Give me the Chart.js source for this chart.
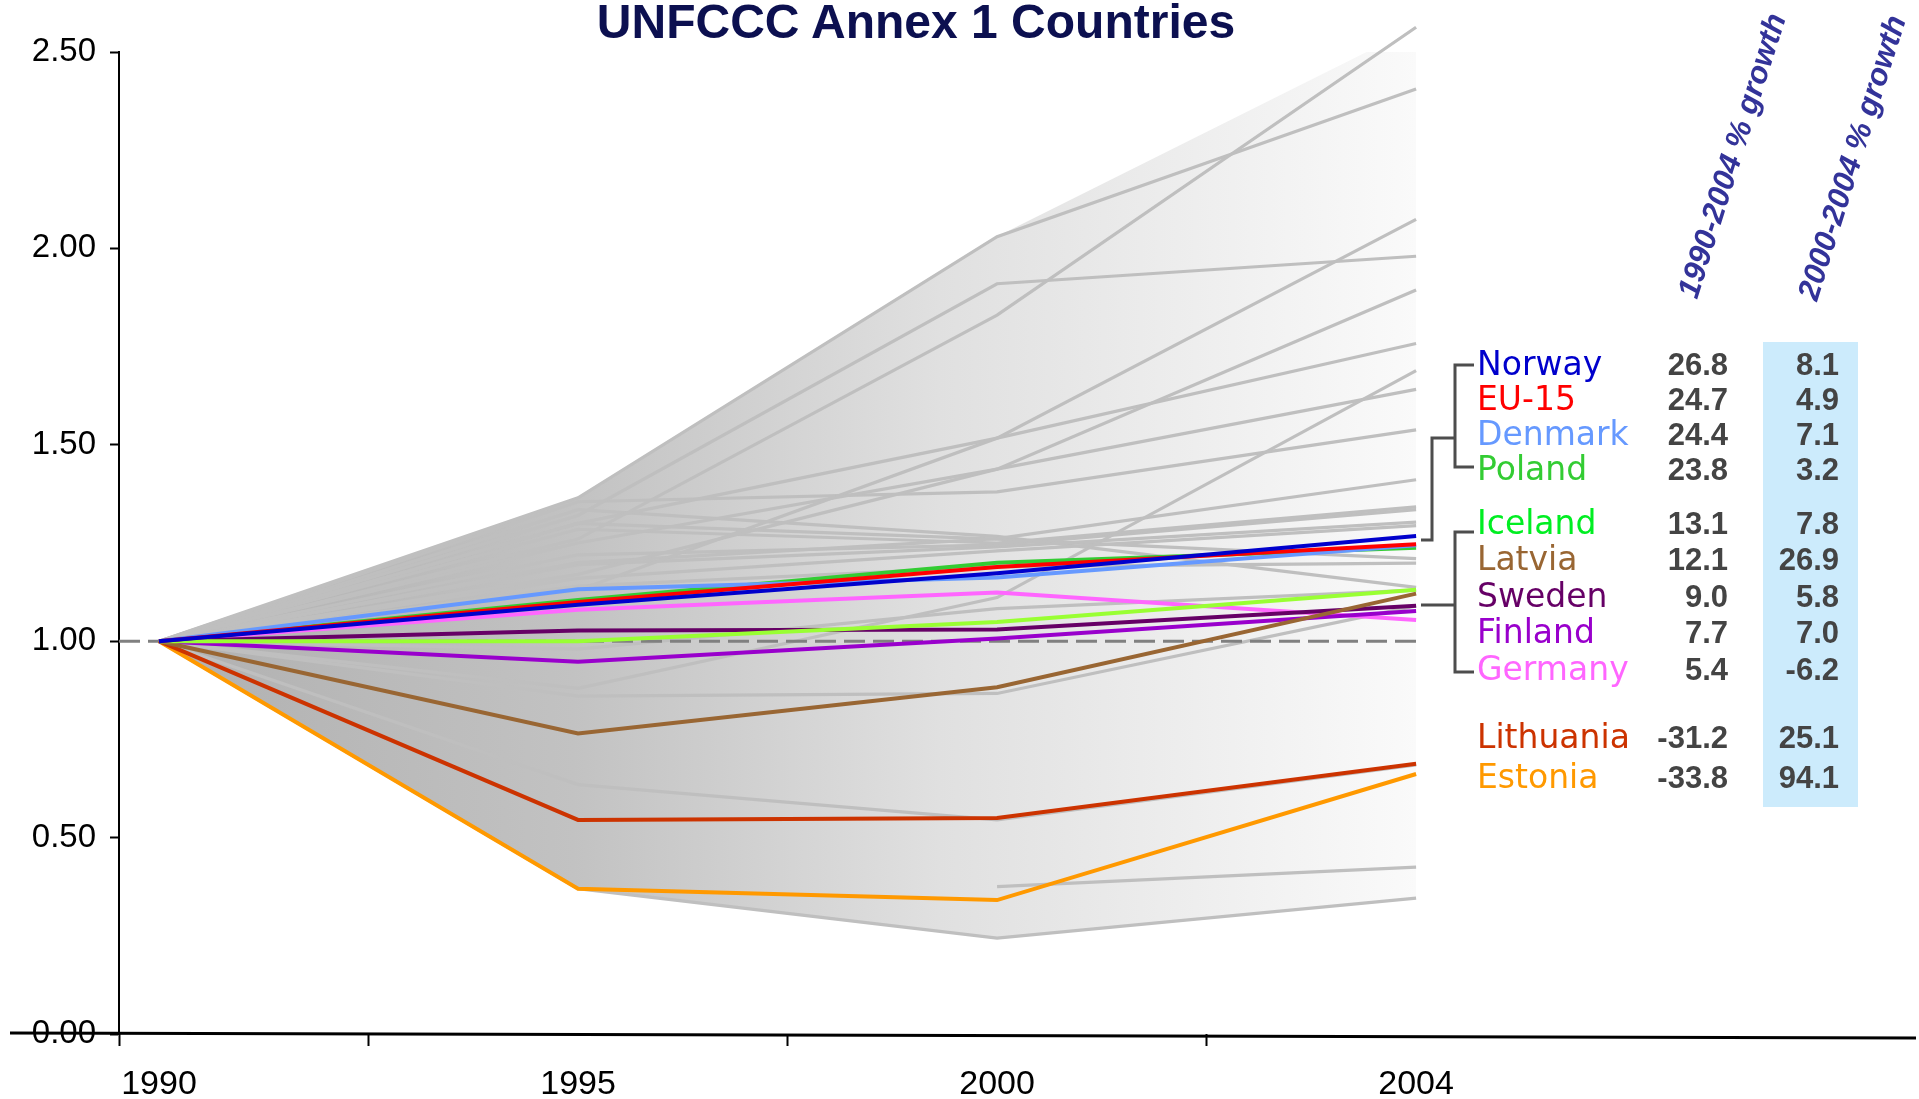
<!DOCTYPE html>
<html>
<head>
<meta charset="utf-8">
<title>UNFCCC Annex 1 Countries</title>
<script src="https://cdn.jsdelivr.net/npm/chart.js@4.4.1/dist/chart.umd.min.js"></script>
<style>
    body { margin: 0; background: #fff; }
    #wrap { position: relative; width: 1919px; height: 1099px; overflow: hidden; }
    #chart { position: absolute; left: 0; top: 0; }
    #overlay { position: absolute; left: 0; top: 0; pointer-events: none; }
    .title { font: bold 48px "Liberation Sans", Arial, sans-serif; fill: #0c1050; }
    .head { font: italic bold 31px "Liberation Sans", Arial, sans-serif; fill: #333399; }
    .name { font: 33px "DejaVu Sans", Verdana, sans-serif; }
    .num { font: bold 31px "Liberation Sans", Arial, sans-serif; fill: #444444; }
</style>
</head>
<body>
<div id="wrap">
    <canvas id="chart" width="1919" height="1099"></canvas>
    <svg id="overlay" width="1919" height="1099" xmlns="http://www.w3.org/2000/svg">
        <text class="title" x="916" y="38" text-anchor="middle">UNFCCC Annex 1 Countries</text>
        <rect x="1763" y="342" width="95" height="465" fill="#ccebfc"></rect>
        <text class="head" transform="translate(1697,300) rotate(-72.5)">1990-2004 % growth</text>
        <text class="head" transform="translate(1817,302) rotate(-72.5)">2000-2004 % growth</text>
        <!-- brackets linking the groups to the line ends -->
        <path d="M1474,365 H1455 V467 H1474 M1455,438 H1432 V540 H1421" stroke="#4d4d4d" stroke-width="3" fill="none"></path>
        <path d="M1474,532 H1455 V672 H1474 M1455,605 H1421" stroke="#4d4d4d" stroke-width="3" fill="none"></path>
        <g id="rows"></g>
    </svg>
</div>

<script>
// Categories (x axis)
const years = ["1990", "1995", "2000", "2004"];

// Highlighted countries, index 1990 = 1.00
const norway    = [1, 1.093, 1.173, 1.268];
const eu15      = [1, 1.100, 1.189, 1.247];
const denmark   = [1, 1.132, 1.162, 1.244];
const poland    = [1, 1.105, 1.200, 1.238];
const iceland   = [1, 1.000, 1.049, 1.131];
const latvia    = [1, 0.765, 0.883, 1.121];
const sweden    = [1, 1.027, 1.030, 1.090];
const finland   = [1, 0.948, 1.007, 1.077];
const germany   = [1, 1.080, 1.124, 1.054];
const lithuania = [1, 0.545, 0.550, 0.688];
const estonia   = [1, 0.370, 0.341, 0.662];

const countryNames = ["Norway", "EU-15", "Denmark", "Poland", "Iceland", "Latvia",
    "Sweden", "Finland", "Germany", "Lithuania", "Estonia"];
const growth1990to2004 = [26.8, 24.7, 24.4, 23.8, 13.1, 12.1, 9.0, 7.7, 5.4, -31.2, -33.8];
const growth2000to2004 = [8.1, 4.9, 7.1, 3.2, 7.8, 26.9, 5.8, 7.0, -6.2, 25.1, 94.1];

// Other Annex 1 countries (grey)
const g01 = [1, 1.260, 1.830, 2.563];
const g02 = [1, 1.365, 2.030, 2.406];
const g03 = [1, 1.300, 1.517, 2.074];
const g04 = [1, 1.320, 1.910, 1.980];
const g05 = [1, 1.250, 1.438, 1.894];
const g06 = [1, 1.130, 1.517, 1.758];
const g07 = [1, 0.880, 1.111, 1.689];
const g08 = [1, 1.170, 1.438, 1.641];
const g09 = [1, 1.355, 1.380, 1.538];
const g10 = [1, 1.200, 1.261, 1.411];
const g11 = [1, 1.285, 1.250, 1.342];
const g12 = [1, 1.220, 1.245, 1.335];
const g13 = [1, 1.195, 1.240, 1.303];
const g14 = [1, 1.160, 1.230, 1.294];
const g15 = [1, 1.300, 1.260, 1.210];
const g16 = [1, 1.140, 1.190, 1.199];
const g17 = [1, 1.335, 1.267, 1.137];
const g18 = [1, 0.860, 0.867, 1.090];
const g19 = [1, 0.635, 0.545, 0.685];
const g20 = [null, null, 0.375, 0.425];
const g21 = [1, 0.370, 0.244, 0.346];
const g22 = [1, 0.980, 1.083, 1.130];

// Styles
const highlighted = [norway, eu15, denmark, poland, iceland, latvia, sweden, finland, germany, lithuania, estonia];
const others = [g01, g02, g03, g04, g05, g06, g07, g08, g09, g10, g11, g12, g13, g14, g15, g16, g17, g18, g19, g20, g21, g22];
const lineColors = ["#0000cc", "#ff0000", "#6699ff", "#33cc33", "#99ff33", "#996633",
    "#660066", "#9900cc", "#ff66ff", "#cc3300", "#ff9900"];
const labelColors = ["#0000cc", "#ff0000", "#6699ff", "#33cc33", "#00ee22", "#996633",
    "#660066", "#9900cc", "#ff66ff", "#cc3300", "#ff9900"];
const rowBaselines = [375, 410, 445, 480, 534, 570, 607, 643, 680, 748, 788];

// x range so 1990 sits just right of the y axis and room is left for the table
const xMin = -0.0955;
const xMax = 4.193;

function toPoints(values) {
    return values.map((v, i) => ({ x: i, y: v }));
}

function lineSet(values, color, width) {
    return {
        data: toPoints(values),
        borderColor: color,
        borderWidth: width,
        pointRadius: 0,
        tension: 0,
        fill: false,
        spanGaps: false,
        clip: false // the top line runs above 2.50
    };
}

// Envelope of all series (max / min per year)
const allSeries = highlighted.concat(others);
const upper = years.map((_, i) => Math.max(...allSeries.map(s => s[i]).filter(v => v !== null)));
const lower = years.map((_, i) => Math.min(...allSeries.map(s => s[i]).filter(v => v !== null)));

function envelopeFill(ctx) {
    const chart = ctx.chart;
    if (!chart.chartArea) return "#cccccc";
    const xs = chart.scales.x;
    const g = chart.ctx.createLinearGradient(xs.getPixelForValue(0), 0, xs.getPixelForValue(years.length - 1), 0);
    g.addColorStop(0, "#b0b0b0");
    g.addColorStop(0.33, "#c2c2c2");
    g.addColorStop(0.62, "#e0e0e0");
    g.addColorStop(1, "#fafafa");
    return g;
}

// first dataset is drawn on top
const datasets = [];
highlighted.forEach((s, i) => datasets.push(lineSet(s, lineColors[i], 4)));
datasets.push({
    data: [{ x: xMin, y: 1 }, { x: years.length - 1, y: 1 }],
    borderColor: "#808080",
    borderWidth: 3,
    borderDash: [21, 8],
    pointRadius: 0,
    fill: false
});
others.forEach(s => datasets.push(lineSet(s, "#bfbfbf", 3.2)));
datasets.push({
    data: toPoints(upper),
    borderWidth: 0,
    pointRadius: 0,
    tension: 0,
    fill: "+1",
    backgroundColor: envelopeFill
});
datasets.push({
    data: toPoints(lower),
    borderWidth: 0,
    pointRadius: 0,
    tension: 0,
    fill: false
});

// Thick x axis line, running a little past the y axis on the left
const axisLinePlugin = {
    id: "axisLine",
    afterDraw(chart) {
        const c = chart.ctx;
        const y0 = chart.scales.y.getPixelForValue(0);
        c.save();
        c.strokeStyle = "#000";
        c.lineWidth = 3;
        c.beginPath();
        c.moveTo(10, y0 - 1);
        c.lineTo(chart.chartArea.right, y0 + 4);
        c.stroke();
        c.restore();
    }
};

Chart.defaults.font.family = "'Liberation Sans', Arial, sans-serif";

new Chart(document.getElementById("chart"), {
    type: "line",
    data: { datasets: datasets },
    plugins: [axisLinePlugin],
    options: {
        responsive: false,
        animation: false,
        devicePixelRatio: 1,
        layout: { padding: { top: 52, right: 3, left: 0, bottom: 0 } },
        plugins: {
            legend: { display: false },
            tooltip: { enabled: false },
            title: { display: false }
        },
        scales: {
            x: {
                type: "linear",
                min: xMin,
                max: xMax,
                afterBuildTicks: scale => {
                    scale.ticks = [xMin, 0, 0.5, 1, 1.5, 2, 2.5, 3].map(v => ({ value: v }));
                },
                afterFit: scale => { scale.height = 65; },
                ticks: {
                    autoSkip: false,
                    maxRotation: 0,
                    padding: 18,
                    color: "#000",
                    font: { size: 34 },
                    callback: v => Number.isInteger(v) ? years[v] : ""
                },
                grid: {
                    drawOnChartArea: false,
                    tickLength: 12,
                    tickWidth: 2,
                    tickColor: ctx => (ctx.tick && Number.isInteger(ctx.tick.value)) ? "rgba(0,0,0,0)" : "#000"
                },
                border: { display: false }
            },
            y: {
                min: 0,
                max: 2.5,
                afterFit: scale => { scale.width = 119; },
                ticks: {
                    stepSize: 0.5,
                    padding: 14,
                    color: "#000",
                    font: { size: 33 },
                    callback: v => v.toFixed(2)
                },
                grid: {
                    drawOnChartArea: false,
                    tickLength: 9,
                    tickWidth: 2,
                    tickColor: "#000"
                },
                border: { display: true, color: "#000", width: 2 }
            }
        }
    }
});

// Table of names and growth figures
const rows = document.getElementById("rows");
const svgNS = "http://www.w3.org/2000/svg";
function addText(cls, x, y, anchor, fill, str) {
    const t = document.createElementNS(svgNS, "text");
    t.setAttribute("class", cls);
    t.setAttribute("x", x);
    t.setAttribute("y", y);
    t.setAttribute("text-anchor", anchor);
    if (fill) t.setAttribute("fill", fill);
    t.textContent = str;
    rows.appendChild(t);
}
countryNames.forEach((name, i) => {
    addText("name", 1477, rowBaselines[i], "start", labelColors[i], name);
    addText("num", 1728, rowBaselines[i], "end", null, growth1990to2004[i].toFixed(1));
    addText("num", 1839, rowBaselines[i], "end", null, growth2000to2004[i].toFixed(1));
});
</script>
</body>
</html>
